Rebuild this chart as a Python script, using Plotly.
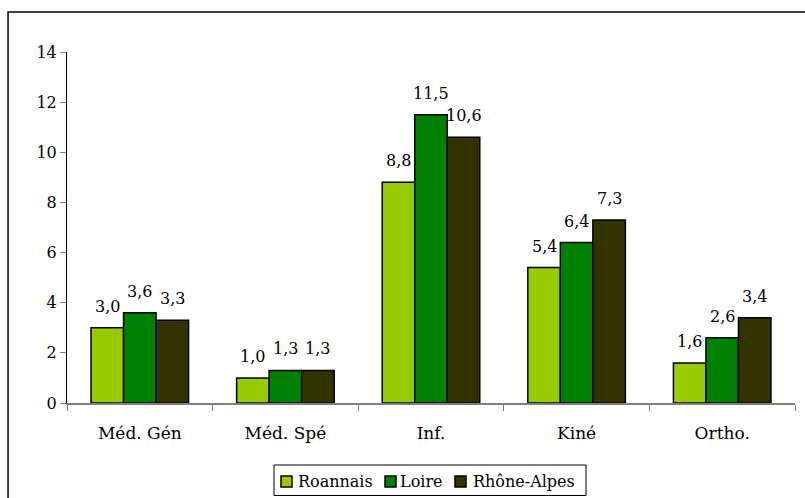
import plotly.graph_objects as go

categories = ["Méd. Gén", "Méd. Spé", "Inf.", "Kiné", "Ortho."]
roannais = [3.0, 1.0, 8.8, 5.4, 1.6]
loire = [3.6, 1.3, 11.5, 6.4, 2.6]
rhone_alpes = [3.3, 1.3, 10.6, 7.3, 3.4]
series_names = ["Roannais", "Loire", "Rhône-Alpes"]
colors = ["#99CC00", "#008000", "#333300"]
y_ticks = [0, 2, 4, 6, 8, 10, 12, 14]

FONT = "DejaVu Serif"
W, H = 805, 498
ML, MR, MT, MB = 67, 10, 52, 95
BARGAP = 0.33
PW, PH = W - ML - MR, H - MT - MB


def px_x(p):
    return (p - ML) / PW


def px_y(p):
    return (H - MB - p) / PH


fig = go.Figure()
series = [roannais, loire, rhone_alpes]
for name, vals, col in zip(series_names, series, colors):
    fig.add_trace(go.Bar(
        x=categories, y=vals, name=name,
        marker=dict(color=col, line=dict(color="black", width=1.5)),
    ))

# value labels placed above each bar
bar_w = PW / len(categories) * (1 - BARGAP) / len(series)
annotations = []
for i, vals in enumerate(series):
    for cat, v in zip(categories, vals):
        annotations.append(dict(
            x=cat, y=v, xref="x", yref="y",
            text=f"{v:.1f}".replace(".", ","),
            showarrow=False, yanchor="bottom", xanchor="center",
            xshift=(i - 1) * bar_w, yshift=10,
            font=dict(family=FONT, size=16, color="black"),
        ))

# legend box drawn at the bottom (boxed, compact like the original)
shapes = [dict(type="rect", xref="paper", yref="paper",
               x0=-0.081, x1=1.03, y0=-0.3, y1=1.114,
               line=dict(color="black", width=1.5), fillcolor="rgba(0,0,0,0)"),
          dict(type="rect", xref="paper", yref="paper",
               x0=px_x(274), x1=px_x(586), y0=px_y(495.5), y1=px_y(465),
               line=dict(color="black", width=1), fillcolor="white")]
leg_sq = [281, 385, 455]
leg_tx = [296, 398, 471]
for name, col, sx, tx in zip(series_names, colors, leg_sq, leg_tx):
    shapes.append(dict(type="rect", xref="paper", yref="paper",
                       x0=px_x(sx), x1=px_x(sx + 11), y0=px_y(487), y1=px_y(476),
                       line=dict(color="black", width=1.5), fillcolor=col))
    annotations.append(dict(x=px_x(tx), y=px_y(481), xref="paper", yref="paper",
                            text=name, showarrow=False, xanchor="left", yanchor="middle",
                            font=dict(family=FONT, size=16, color="black")))

fig.update_layout(
    width=W, height=H,
    margin=dict(l=ML, r=MR, t=MT, b=MB, autoexpand=False),
    paper_bgcolor="white", plot_bgcolor="white",
    barmode="group", bargap=BARGAP, bargroupgap=0,
    font=dict(family=FONT, size=16, color="black"),
    showlegend=False,
    xaxis=dict(showline=True, linecolor="#808080", linewidth=1.5,
               ticks="outside", tickson="boundaries", ticklen=6, tickcolor="#808080",
               tickfont=dict(family=FONT, size=17), ticklabelstandoff=14, showgrid=False),
    yaxis=dict(range=[0, 14], tickvals=y_ticks, showline=True, linecolor="black", linewidth=1,
               ticks="outside", ticklen=6, tickcolor="#808080",
               tickfont=dict(family=FONT, size=16), showgrid=False, zeroline=False),
    annotations=annotations,
    shapes=shapes,
)

fig.write_html("out.html", config={"displayModeBar": False},
               post_script="document.body.style.margin='0';document.body.style.overflow='hidden';")
